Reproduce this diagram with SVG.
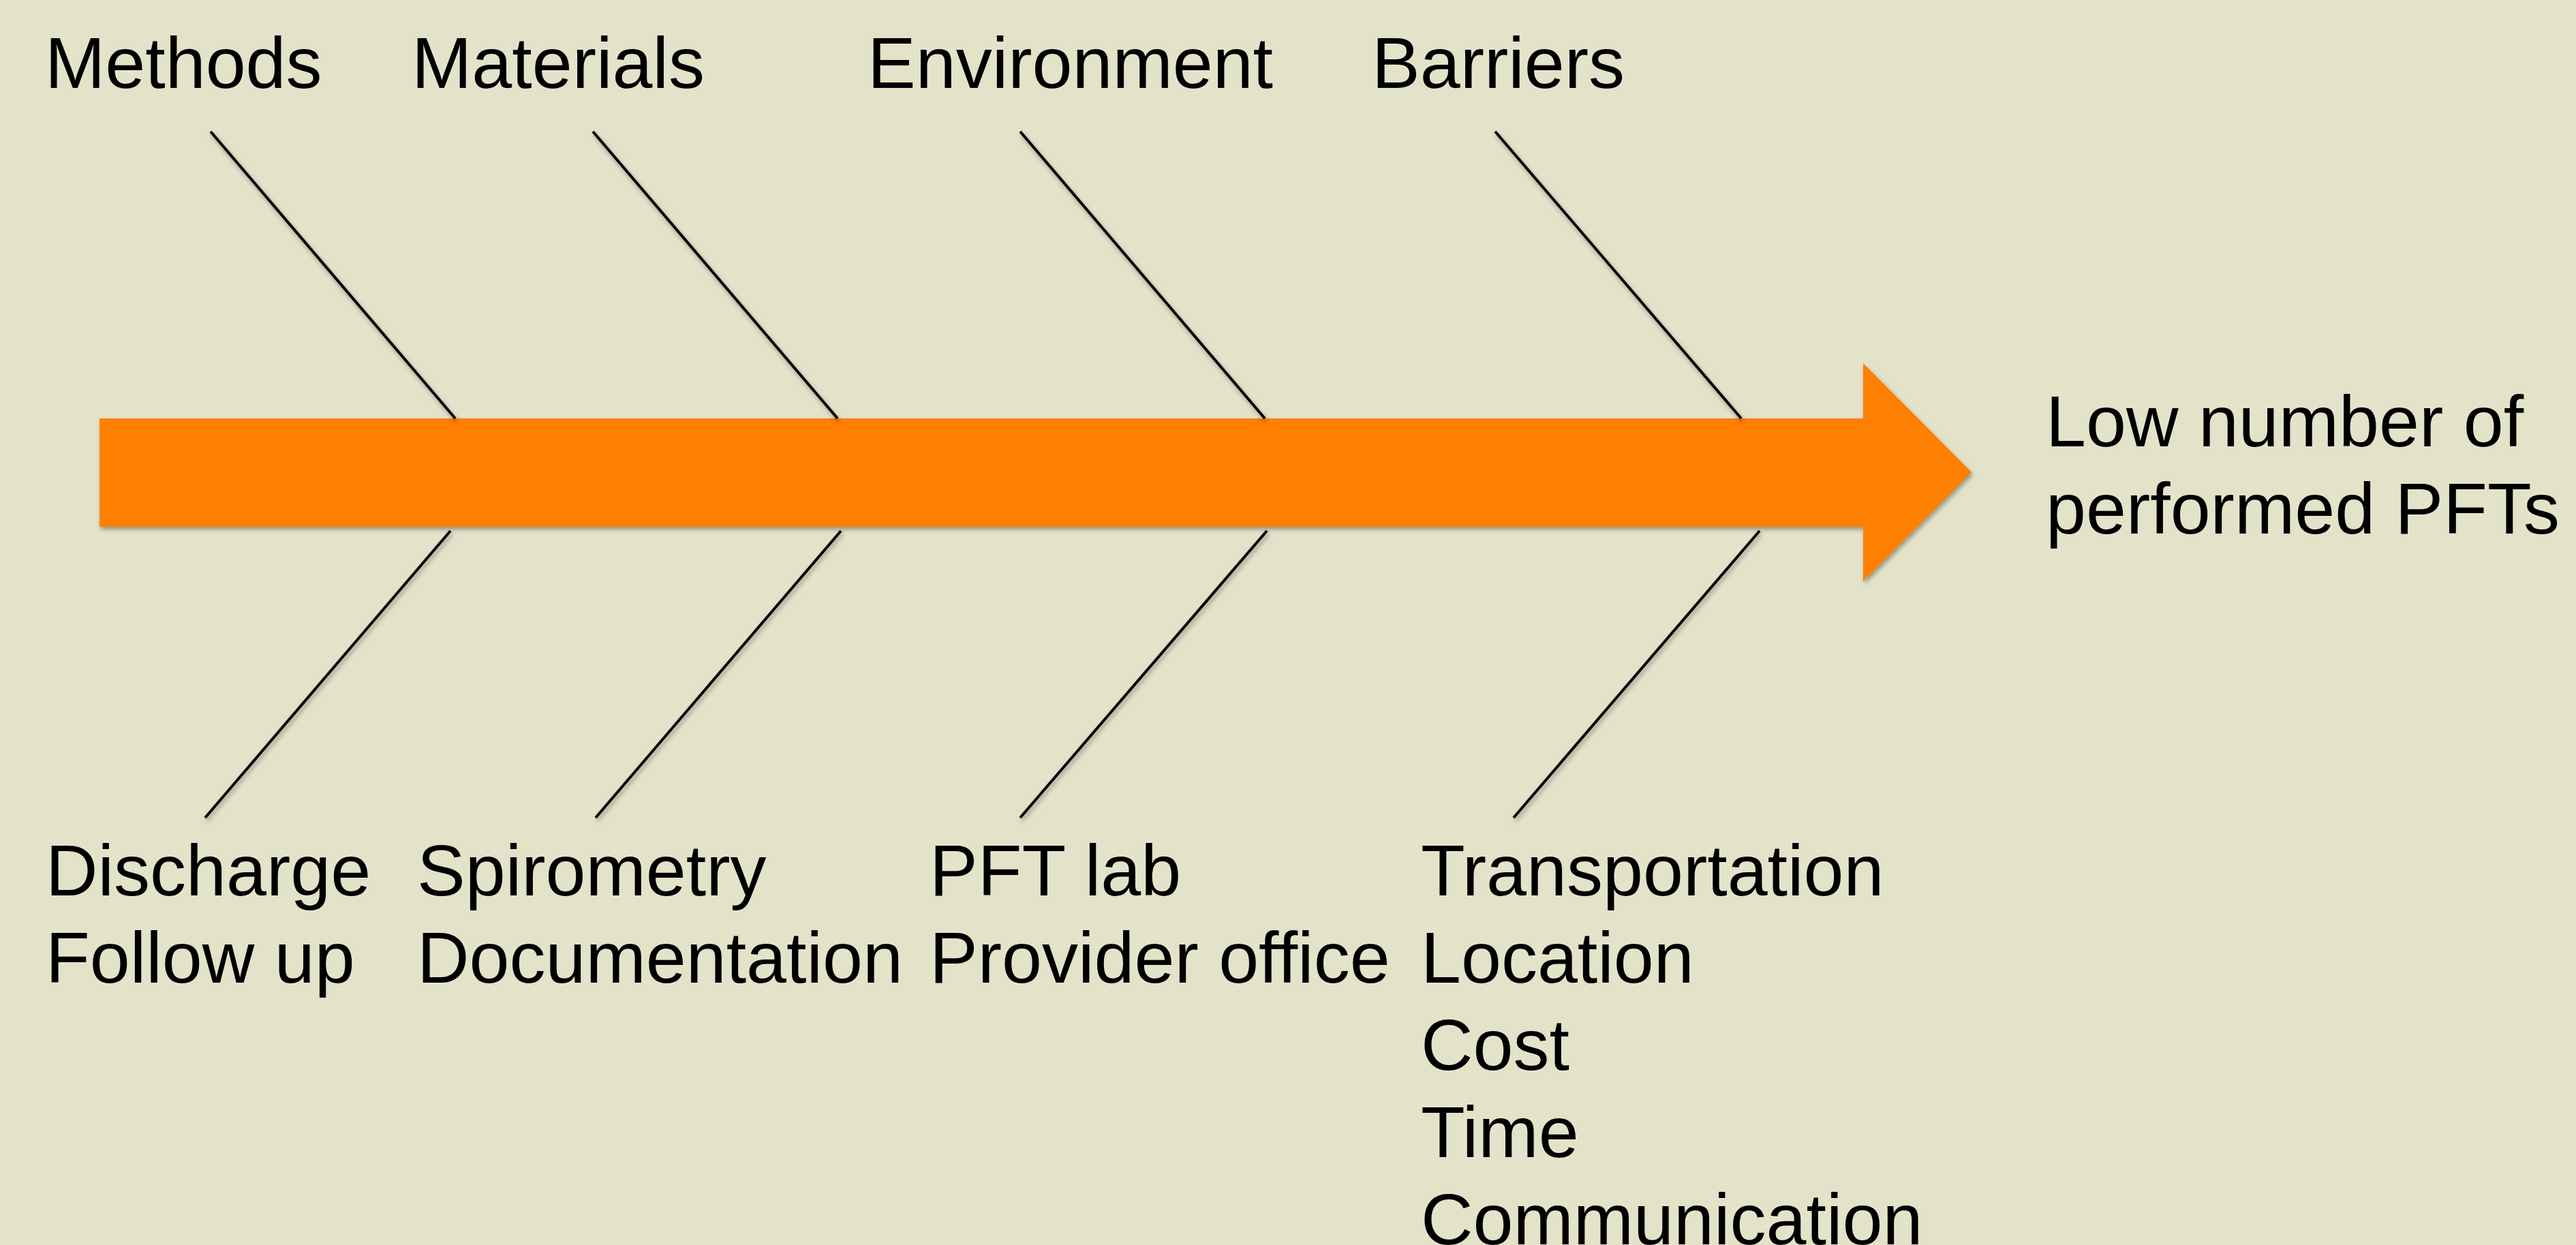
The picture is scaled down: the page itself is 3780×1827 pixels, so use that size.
<svg xmlns="http://www.w3.org/2000/svg" width="3780" height="1827" viewBox="0 0 3780 1827">
  <style>
    .label { font-family: "Liberation Sans", Arial, sans-serif; font-size: 106px; fill: #000000; }
    .bone { stroke: #000000; stroke-width: 4; stroke-linecap: butt; fill: none; filter: url(#shadow); }
    .spine { fill: #FF8000; filter: url(#shadow); }
  </style>
  <defs>
    <filter id="shadow" x="-10%" y="-10%" width="130%" height="130%">
      <feDropShadow dx="2" dy="4" stdDeviation="3" flood-color="#000000" flood-opacity="0.35"/>
    </filter>
  </defs>

  <!-- background -->
  <rect x="0" y="0" width="3780" height="1827" fill="#E3E3CA"/>

  <!-- main spine arrow -->
  <g id="spine">
    <polygon class="spine" points="146,614 2734,614 2734,533 2893,693 2734,853 2734,773 146,773"/>
  </g>

  <!-- bones -->
  <g id="connectors">
    <line class="bone" x1="309" y1="193" x2="668" y2="614"/>
    <line class="bone" x1="870" y1="193" x2="1229" y2="614"/>
    <line class="bone" x1="1497" y1="193" x2="1856" y2="614"/>
    <line class="bone" x1="2194" y1="193" x2="2555" y2="614"/>
    <line class="bone" x1="661" y1="779" x2="301" y2="1200"/>
    <line class="bone" x1="1234" y1="779" x2="874" y2="1200"/>
    <line class="bone" x1="1859" y1="779" x2="1497" y2="1200"/>
    <line class="bone" x1="2582" y1="779" x2="2221" y2="1200"/>
  </g>

  <!-- category headings -->
  <g id="methods"><text class="label" x="66" y="129">Methods</text></g>
  <g id="materials"><text class="label" x="604" y="129">Materials</text></g>
  <g id="environment"><text class="label" x="1273" y="129">Environment</text></g>
  <g id="barriers"><text class="label" x="2013" y="129">Barriers</text></g>

  <!-- causes under each category -->
  <g id="methods-causes">
    <text class="label" x="67" y="1314">Discharge</text>
    <text class="label" x="67" y="1442">Follow up</text>
  </g>
  <g id="materials-causes">
    <text class="label" x="612" y="1314">Spirometry</text>
    <text class="label" x="612" y="1442">Documentation</text>
  </g>
  <g id="environment-causes">
    <text class="label" x="1364" y="1314">PFT lab</text>
    <text class="label" x="1364" y="1442">Provider office</text>
  </g>
  <g id="barriers-causes">
    <text class="label" x="2085" y="1314">Transportation</text>
    <text class="label" x="2085" y="1442">Location</text>
    <text class="label" x="2085" y="1570">Cost</text>
    <text class="label" x="2085" y="1698">Time</text>
    <text class="label" x="2085" y="1826">Communication</text>
  </g>

  <!-- effect -->
  <g id="effect">
    <text class="label" x="3002" y="655">Low number of</text>
    <text class="label" x="3002" y="783">performed PFTs</text>
  </g>
</svg>
